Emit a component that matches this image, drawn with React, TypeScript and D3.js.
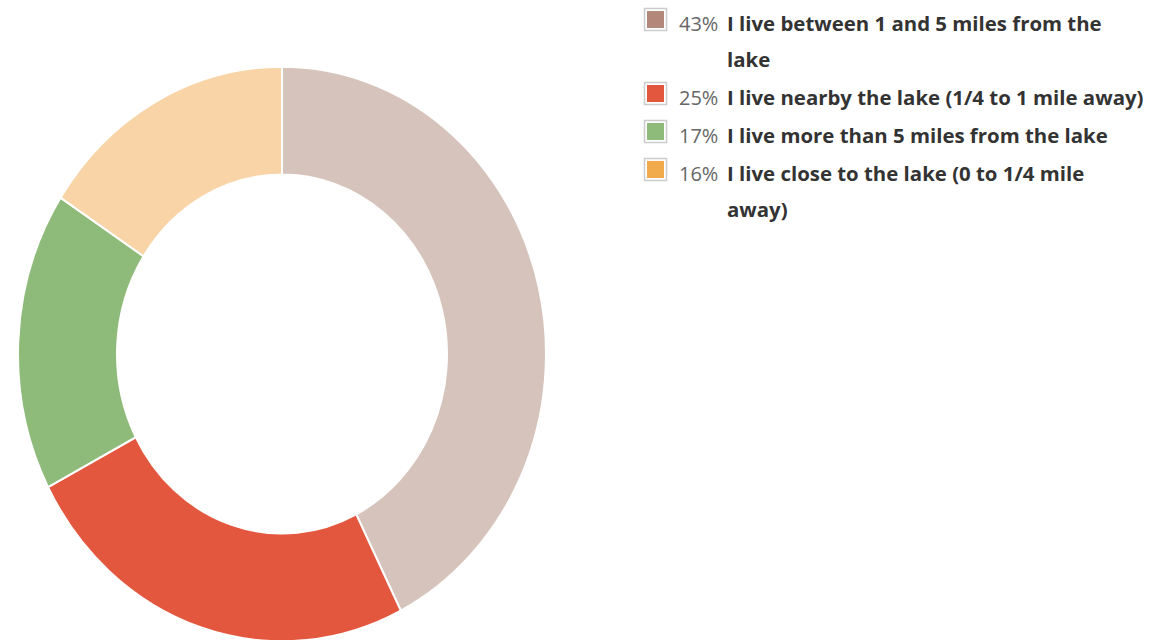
import { useEffect, useRef } from 'react';
import * as d3 from 'd3';

const categories = [
  'I live between 1 and 5 miles from the lake',
  'I live nearby the lake (1/4 to 1 mile away)',
  'I live more than 5 miles from the lake',
  'I live close to the lake (0 to 1/4 mile away)',
];
const values = [43, 25, 17, 16];
const percentLabels = ['43%', '25%', '17%', '16%'];
const legendLines = [
  ['I live between 1 and 5 miles from the', 'lake'],
  ['I live nearby the lake (1/4 to 1 mile away)'],
  ['I live more than 5 miles from the lake'],
  ['I live close to the lake (0 to 1/4 mile', 'away)'],
];
const sliceColors = ['#d6c3bb', '#e4573f', '#8fbb7a', '#f8d4a7'];
const legendColors = ['#b38779', '#e4573f', '#8fbb7a', '#f1aa4c'];

const App = () => {
  const chart = useRef<SVGSVGElement>(null);

  useEffect(() => {
    const width = 1150;
    const height = 640;

    const svg = d3.select(chart.current)
      .attr('width', width)
      .attr('height', height)
      .style('font-family', '"Open Sans", sans-serif');

    svg.selectAll('*').remove();

    const data = categories.map((c, i) => ({ label: c, value: values[i] }));

    const pie = d3.pie<any>()
      .sort(null)
      .value((d) => d.value);

    const arc = d3.arc<any>()
      .innerRadius(165)
      .outerRadius(264);

    // the donut in the picture is slightly stretched vertically
    const center = svg.append('g')
      .attr('transform', 'translate(282,354) scale(1,1.088)');

    center.selectAll('.slice')
      .data(pie(data))
      .join('path')
      .attr('class', 'slice')
      .attr('d', (d) => arc(d))
      .attr('fill', (d, i) => sliceColors[i])
      .attr('stroke', '#ffffff')
      .attr('stroke-width', 2)
      .attr('vector-effect', 'non-scaling-stroke');

    /** Legend */
    const lineHeight = 36;
    const itemGap = 2;
    let y = 31;

    const legend = svg.append('g');

    data.forEach((d, i) => {
      const item = legend.append('g');

      item.append('rect')
        .attr('x', 644.5)
        .attr('y', y - 22.5)
        .attr('width', 22)
        .attr('height', 22)
        .attr('fill', '#ffffff')
        .attr('stroke', '#cccccc')
        .attr('stroke-width', 1.5);

      item.append('rect')
        .attr('x', 647)
        .attr('y', y - 20)
        .attr('width', 17)
        .attr('height', 17)
        .attr('fill', legendColors[i]);

      item.append('text')
        .attr('x', 679)
        .attr('y', y)
        .attr('font-size', '20px')
        .attr('fill', '#666666')
        .text(percentLabels[i]);

      legendLines[i].forEach((line, j) => {
        item.append('text')
          .attr('x', 727)
          .attr('y', y + j * lineHeight)
          .attr('font-size', '20.4px')
          .attr('font-weight', 700)
          .attr('fill', '#333333')
          .text(line);
      });

      y += legendLines[i].length * lineHeight + itemGap;
    });
  }, []);

  return (
    <div style={{ position: 'absolute', left: 0, top: 0 }}>
      <svg ref={chart}></svg>
    </div>
  );
};

export default App;
